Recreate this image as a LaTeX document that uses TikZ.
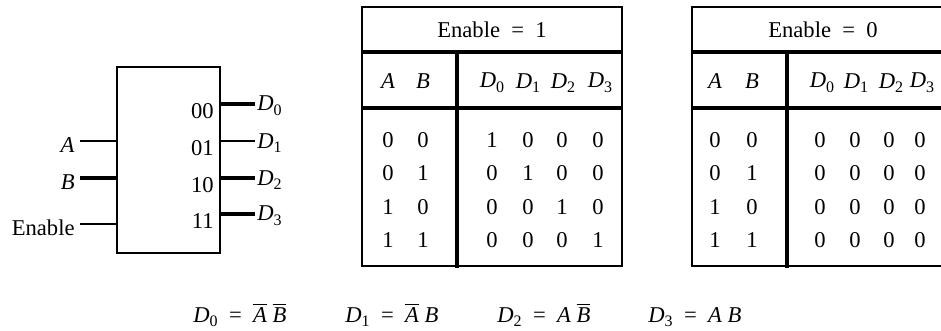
\documentclass[tikz,border=0pt]{standalone}
\usepackage{fontspec}
\setmainfont{Liberation Serif}
\usepackage{tikz}
\usetikzlibrary{positioning}
\newcommand{\Dsub}[1]{\textit{D}\raisebox{-0.45ex}{\fontsize{8}{9}\selectfont #1}}
\newcommand{\nega}[1]{$\overline{\hbox{\textit{#1}}}$}

\begin{document}
\begin{tikzpicture}[x=0.5pt, y=-0.5pt, font=\fontsize{11.3}{13}\selectfont,
    wire/.style={line width=1pt},
    heavy/.style={line width=1.7pt},
    cell/.style={inner sep=0pt, anchor=center}]
  \useasboundingbox (0,0) rectangle (941,331);

  % decoder block
  \node[draw, line width=1pt, minimum width=51.5pt, minimum height=93pt,
        anchor=north west, inner sep=0pt] (dec) at (115.5,66) {};
  \foreach \n/\lab/\y/\w in {A/{\textit{A}}/141/0.8pt, B/{\textit{B}}/178/1.6pt,
                             Enable/{Enable}/224/1pt}{
    \coordinate (in\n) at (80,\y);
    \node[anchor=east, inner sep=1pt] (l\n) at (77,\y+4) {\lab};
    \draw[line width=\w] (in\n) -- (in\n -| dec.west);
  }
  \foreach \b/\y/\w [count=\i from 0] in {00/104/1.6pt, 01/141/1pt, 10/178/1.6pt, 11/214/1.6pt}{
    \coordinate (out\i) at (255,\y);
    \draw[line width=\w] (out\i -| dec.east) -- (out\i);
    \node[anchor=east, inner sep=1pt] (bit\i) at (216,\y+7) {\b};
    \node[anchor=west, inner sep=1pt] (d\i) at ([yshift=-1pt]out\i) {\Dsub{\i}};
  }

  % truth table, Enable = 1
  \begin{scope}[shift={(362,7)}]
    \draw[wire] (0,0) rectangle (260,259);
    \draw[heavy] (0,45) -- (260,45);
    \draw[heavy] (0,101) -- (260,101);
    \draw[heavy] (95,45) -- (95,261);
    \node[cell] (en1) at (130,23) {Enable~~=~~1};
    \node[cell] (ta1) at (26,74) {\textit{A}};
    \node[cell] (tb1) at (61,74) {\textit{B}};
    \foreach \x [count=\i from 0] in {130,166,201,238}
      \node[cell] (td1\i) at (\x,76) {\Dsub{\i}};
    \foreach \va/\vb/\vp/\vq/\vr/\vs [count=\j] in
        {0/0/1/0/0/0, 0/1/0/1/0/0, 1/0/0/0/1/0, 1/1/0/0/0/1}{
      \path (26,99.7+33.3*\j) node[cell]{\va} (61,99.7+33.3*\j) node[cell]{\vb}
            (130,99.7+33.3*\j) node[cell]{\vp} (166,99.7+33.3*\j) node[cell]{\vq}
            (200,99.7+33.3*\j) node[cell]{\vr} (236,99.7+33.3*\j) node[cell]{\vs};
    }
  \end{scope}

  % truth table, Enable = 0
  \begin{scope}[shift={(692,7)}]
    \draw[wire] (249,0) -- (0,0) -- (0,259) -- (249,259);
    \draw[heavy] (0,45) -- (249,45);
    \draw[heavy] (0,101) -- (249,101);
    \draw[heavy] (95,45) -- (95,261);
    \node[cell] (en0) at (131,23) {Enable~~=~~0};
    \node[cell] (ta0) at (23,74) {\textit{A}};
    \node[cell] (tb0) at (60,74) {\textit{B}};
    \foreach \x [count=\i from 0] in {130,164,199,230}
      \node[cell] (td0\i) at (\x,76) {\Dsub{\i}};
    \foreach \va/\vb [count=\j] in {0/0, 0/1, 1/0, 1/1}{
      \path (23,99.7+33.3*\j) node[cell]{\va} (60,99.7+33.3*\j) node[cell]{\vb};
      \foreach \x in {128,163,197,228}
        \node[cell] at (\x,99.7+33.3*\j) {0};
    }
  \end{scope}

  % output equations
  \node[anchor=base west, inner sep=0pt] (f0) at (193,322) {\Dsub{0} ~=~ \nega{A}\ \nega{B}};
  \node[anchor=base west, inner sep=0pt] (f1) at (345,322) {\Dsub{1} ~=~ \nega{A}\ \textit{B}};
  \node[anchor=base west, inner sep=0pt] (f2) at (497,322) {\Dsub{2} ~=~ \textit{A}\ \nega{B}};
  \node[anchor=base west, inner sep=0pt] (f3) at (648,322) {\Dsub{3} ~=~ \textit{A}\ \textit{B}};
\end{tikzpicture}
\end{document}
